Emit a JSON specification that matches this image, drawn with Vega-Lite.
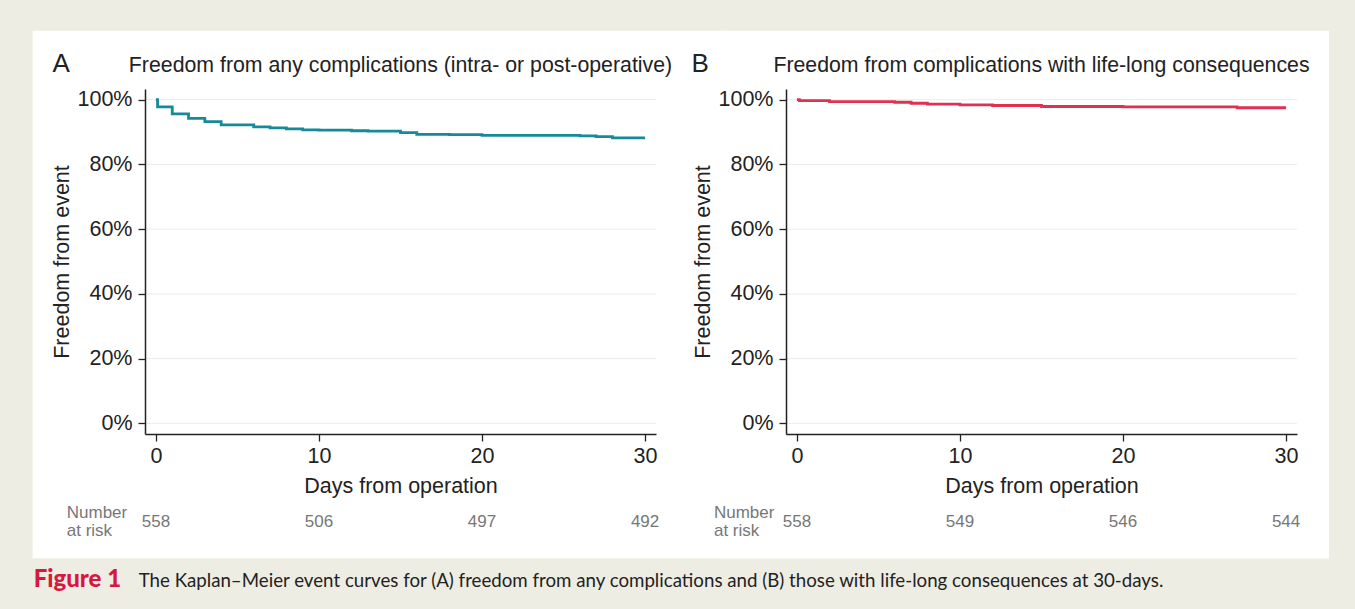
{
  "$schema": "https://vega.github.io/schema/vega-lite/v6.json",
  "background": "#eeede3",
  "padding": {"left": 32, "top": 30, "right": 26, "bottom": 0},
  "bounds": "flush",
  "spacing": 130,
  "datasets": {
    "km": [
      {"panel": "A", "day": 0, "surv": 1.0},
      {"panel": "A", "day": 0.1, "surv": 0.978},
      {"panel": "A", "day": 1, "surv": 0.956},
      {"panel": "A", "day": 2, "surv": 0.942},
      {"panel": "A", "day": 3, "surv": 0.932},
      {"panel": "A", "day": 4, "surv": 0.922},
      {"panel": "A", "day": 6, "surv": 0.916},
      {"panel": "A", "day": 7, "surv": 0.913},
      {"panel": "A", "day": 8, "surv": 0.910},
      {"panel": "A", "day": 9, "surv": 0.907},
      {"panel": "A", "day": 10, "surv": 0.906},
      {"panel": "A", "day": 12, "surv": 0.904},
      {"panel": "A", "day": 13, "surv": 0.903},
      {"panel": "A", "day": 15, "surv": 0.898},
      {"panel": "A", "day": 16, "surv": 0.893},
      {"panel": "A", "day": 18, "surv": 0.892},
      {"panel": "A", "day": 20, "surv": 0.890},
      {"panel": "A", "day": 26, "surv": 0.888},
      {"panel": "A", "day": 27, "surv": 0.886},
      {"panel": "A", "day": 28, "surv": 0.882},
      {"panel": "A", "day": 30, "surv": 0.882},
      {"panel": "B", "day": 0, "surv": 1.0},
      {"panel": "B", "day": 0.15, "surv": 0.997},
      {"panel": "B", "day": 2, "surv": 0.994},
      {"panel": "B", "day": 6, "surv": 0.992},
      {"panel": "B", "day": 7, "surv": 0.989},
      {"panel": "B", "day": 8, "surv": 0.986},
      {"panel": "B", "day": 10, "surv": 0.984},
      {"panel": "B", "day": 12, "surv": 0.982},
      {"panel": "B", "day": 15, "surv": 0.979},
      {"panel": "B", "day": 20, "surv": 0.978},
      {"panel": "B", "day": 27, "surv": 0.975},
      {"panel": "B", "day": 30, "surv": 0.975}
    ],
    "risk": [
      {"panel": "A", "day": 0, "n": 558},
      {"panel": "A", "day": 10, "n": 506},
      {"panel": "A", "day": 20, "n": 497},
      {"panel": "A", "day": 30, "n": 492},
      {"panel": "B", "day": 0, "n": 558},
      {"panel": "B", "day": 10, "n": 549},
      {"panel": "B", "day": 20, "n": 546},
      {"panel": "B", "day": 30, "n": 544}
    ],
    "grid": [{"g": 0}, {"g": 0.2}, {"g": 0.4}, {"g": 0.6}, {"g": 0.8}, {"g": 1}]
  },
  "hconcat": [
    {
      "width": 511,
      "height": 345,
      "layer": [
        {
          "data": {"values": [{}]},
          "mark": {"type": "rect", "color": "#ffffff"},
          "encoding": {
            "x": {"datum": -7.56, "type": "quantitative", "scale": {"domain": [-0.67, 30.67], "nice": false, "zero": false},
              "axis": {"values": [0, 10, 20, 30], "format": "d", "title": "Days from operation", "grid": false, "labelPadding": 4, "titlePadding": 9, "zindex": 1}},
            "x2": {"datum": 34.64},
            "y": {"datum": 1.213, "type": "quantitative", "scale": {"domain": [-0.033, 1.033], "nice": false, "zero": false},
              "axis": {"values": [0, 0.2, 0.4, 0.6, 0.8, 1], "format": ".0%", "title": "Freedom from event", "grid": false, "labelPadding": 6, "titlePadding": 4, "zindex": 1}},
            "y2": {"datum": -0.4176}
          }
        },
        {
          "data": {"values": [{}]},
          "mark": {"type": "rect", "color": "#eeede3"},
          "encoding": {
            "x": {"datum": -7.56, "type": "quantitative", "scale": {"domain": [-0.67, 30.67], "nice": false, "zero": false}},
            "x2": {"datum": 34.64},
            "y": {"datum": -0.4176, "type": "quantitative", "scale": {"domain": [-0.033, 1.033], "nice": false, "zero": false}},
            "y2": {"datum": -0.58}
          }
        },
        {
          "data": {"name": "grid"},
          "mark": {"type": "rule", "color": "#ececec", "strokeWidth": 1},
          "encoding": {
            "y": {"field": "g", "type": "quantitative", "scale": {"domain": [-0.033, 1.033], "nice": false, "zero": false}}
          }
        },
        {
          "data": {"name": "km"},
          "transform": [{"filter": "datum.panel === 'A'"}],
          "mark": {"type": "line", "interpolate": "step-after", "color": "#168a98", "strokeWidth": 2.8},
          "encoding": {
            "x": {"field": "day", "type": "quantitative", "scale": {"domain": [-0.67, 30.67], "nice": false, "zero": false}},
            "y": {"field": "surv", "type": "quantitative", "scale": {"domain": [-0.033, 1.033], "nice": false, "zero": false}}
          }
        },
        {
          "data": {"name": "risk"},
          "transform": [{"filter": "datum.panel === 'A'"}],
          "mark": {"type": "text", "fontSize": 17, "color": "#777777", "baseline": "middle", "align": "center"},
          "encoding": {
            "x": {"field": "day", "type": "quantitative", "scale": {"domain": [-0.67, 30.67], "nice": false, "zero": false}},
            "y": {"datum": -0.304, "type": "quantitative", "scale": {"domain": [-0.033, 1.033], "nice": false, "zero": false}},
            "text": {"field": "n"}
          }
        },
        {
          "data": {"values": [{}]},
          "mark": {"type": "text", "text": ["Number", "at risk"], "lineHeight": 18, "fontSize": 17, "color": "#777777", "baseline": "middle", "align": "left"},
          "encoding": {
            "x": {"datum": -5.47, "type": "quantitative", "scale": {"domain": [-0.67, 30.67], "nice": false, "zero": false}},
            "y": {"datum": -0.276, "type": "quantitative", "scale": {"domain": [-0.033, 1.033], "nice": false, "zero": false}}
          }
        },
        {
          "data": {"values": [{}]},
          "mark": {"type": "text", "text": "A", "fontSize": 26, "color": "#222222", "baseline": "alphabetic", "align": "left"},
          "encoding": {
            "x": {"datum": -6.35, "type": "quantitative", "scale": {"domain": [-0.67, 30.67], "nice": false, "zero": false}},
            "y": {"datum": 1.084, "type": "quantitative", "scale": {"domain": [-0.033, 1.033], "nice": false, "zero": false}}
          }
        },
        {
          "data": {"values": [{}]},
          "mark": {"type": "text", "text": "Freedom from any complications (intra- or post-operative)", "fontSize": 21.3, "color": "#222222", "baseline": "alphabetic", "align": "center"},
          "encoding": {
            "x": {"datum": 15, "type": "quantitative", "scale": {"domain": [-0.67, 30.67], "nice": false, "zero": false}},
            "y": {"datum": 1.084, "type": "quantitative", "scale": {"domain": [-0.033, 1.033], "nice": false, "zero": false}}
          }
        },
        {
          "data": {"values": [{}]},
          "mark": {"type": "text", "text": "Figure 1", "font": "Lato", "fontWeight": 900, "fontSize": 24, "color": "#d6183f", "baseline": "alphabetic", "align": "left"},
          "encoding": {
            "x": {"datum": -7.5, "type": "quantitative", "scale": {"domain": [-0.67, 30.67], "nice": false, "zero": false}},
            "y": {"datum": -0.5065, "type": "quantitative", "scale": {"domain": [-0.033, 1.033], "nice": false, "zero": false}}
          }
        },
        {
          "data": {"values": [{}]},
          "mark": {"type": "text", "text": "The Kaplan–Meier event curves for (A) freedom from any complications and (B) those with life-long consequences at 30-days.", "font": "Lato", "fontSize": 18.7, "color": "#222222", "baseline": "alphabetic", "align": "left"},
          "encoding": {
            "x": {"datum": -1.056, "type": "quantitative", "scale": {"domain": [-0.67, 30.67], "nice": false, "zero": false}},
            "y": {"datum": -0.5065, "type": "quantitative", "scale": {"domain": [-0.033, 1.033], "nice": false, "zero": false}}
          }
        }
      ]
    },
    {
      "width": 511,
      "height": 345,
      "layer": [
        {
          "data": {"values": [{}]},
          "mark": {"type": "rect", "color": "#ffffff"},
          "encoding": {
            "x": {"datum": -4.72, "type": "quantitative", "scale": {"domain": [-0.67, 30.67], "nice": false, "zero": false},
              "axis": {"values": [0, 10, 20, 30], "format": "d", "title": "Days from operation", "grid": false, "labelPadding": 4, "titlePadding": 9, "zindex": 1}},
            "x2": {"datum": 32.63},
            "y": {"datum": 1.213, "type": "quantitative", "scale": {"domain": [-0.033, 1.033], "nice": false, "zero": false},
              "axis": {"values": [0, 0.2, 0.4, 0.6, 0.8, 1], "format": ".0%", "title": "Freedom from event", "grid": false, "labelPadding": 6, "titlePadding": 4, "zindex": 1}},
            "y2": {"datum": -0.4176}
          }
        },
        {
          "data": {"name": "grid"},
          "mark": {"type": "rule", "color": "#ececec", "strokeWidth": 1},
          "encoding": {
            "y": {"field": "g", "type": "quantitative", "scale": {"domain": [-0.033, 1.033], "nice": false, "zero": false}}
          }
        },
        {
          "data": {"name": "km"},
          "transform": [{"filter": "datum.panel === 'B'"}],
          "mark": {"type": "line", "interpolate": "step-after", "color": "#e03150", "strokeWidth": 2.8},
          "encoding": {
            "x": {"field": "day", "type": "quantitative", "scale": {"domain": [-0.67, 30.67], "nice": false, "zero": false}},
            "y": {"field": "surv", "type": "quantitative", "scale": {"domain": [-0.033, 1.033], "nice": false, "zero": false}}
          }
        },
        {
          "data": {"name": "risk"},
          "transform": [{"filter": "datum.panel === 'B'"}],
          "mark": {"type": "text", "fontSize": 17, "color": "#777777", "baseline": "middle", "align": "center"},
          "encoding": {
            "x": {"field": "day", "type": "quantitative", "scale": {"domain": [-0.67, 30.67], "nice": false, "zero": false}},
            "y": {"datum": -0.304, "type": "quantitative", "scale": {"domain": [-0.033, 1.033], "nice": false, "zero": false}},
            "text": {"field": "n"}
          }
        },
        {
          "data": {"values": [{}]},
          "mark": {"type": "text", "text": ["Number", "at risk"], "lineHeight": 18, "fontSize": 17, "color": "#777777", "baseline": "middle", "align": "left"},
          "encoding": {
            "x": {"datum": -5.09, "type": "quantitative", "scale": {"domain": [-0.67, 30.67], "nice": false, "zero": false}},
            "y": {"datum": -0.276, "type": "quantitative", "scale": {"domain": [-0.033, 1.033], "nice": false, "zero": false}}
          }
        },
        {
          "data": {"values": [{}]},
          "mark": {"type": "text", "text": "B", "fontSize": 26, "color": "#222222", "baseline": "alphabetic", "align": "left"},
          "encoding": {
            "x": {"datum": -6.47, "type": "quantitative", "scale": {"domain": [-0.67, 30.67], "nice": false, "zero": false}},
            "y": {"datum": 1.084, "type": "quantitative", "scale": {"domain": [-0.033, 1.033], "nice": false, "zero": false}}
          }
        },
        {
          "data": {"values": [{}]},
          "mark": {"type": "text", "text": "Freedom from complications with life-long consequences", "fontSize": 21.3, "color": "#222222", "baseline": "alphabetic", "align": "center"},
          "encoding": {
            "x": {"datum": 15, "type": "quantitative", "scale": {"domain": [-0.67, 30.67], "nice": false, "zero": false}},
            "y": {"datum": 1.084, "type": "quantitative", "scale": {"domain": [-0.033, 1.033], "nice": false, "zero": false}}
          }
        }
      ]
    }
  ],
  "config": {
    "font": "Liberation Sans",
    "view": {"stroke": null},
    "axis": {
      "domainColor": "#222222",
      "domainWidth": 1.5,
      "tickColor": "#222222",
      "tickWidth": 1.3,
      "tickSize": 7,
      "labelColor": "#222222",
      "labelFontSize": 21.5,
      "labelFont": "Liberation Sans",
      "titleColor": "#222222",
      "titleFontSize": 21.5,
      "titleFont": "Liberation Sans",
      "titleFontWeight": "normal"
    }
  }
}
